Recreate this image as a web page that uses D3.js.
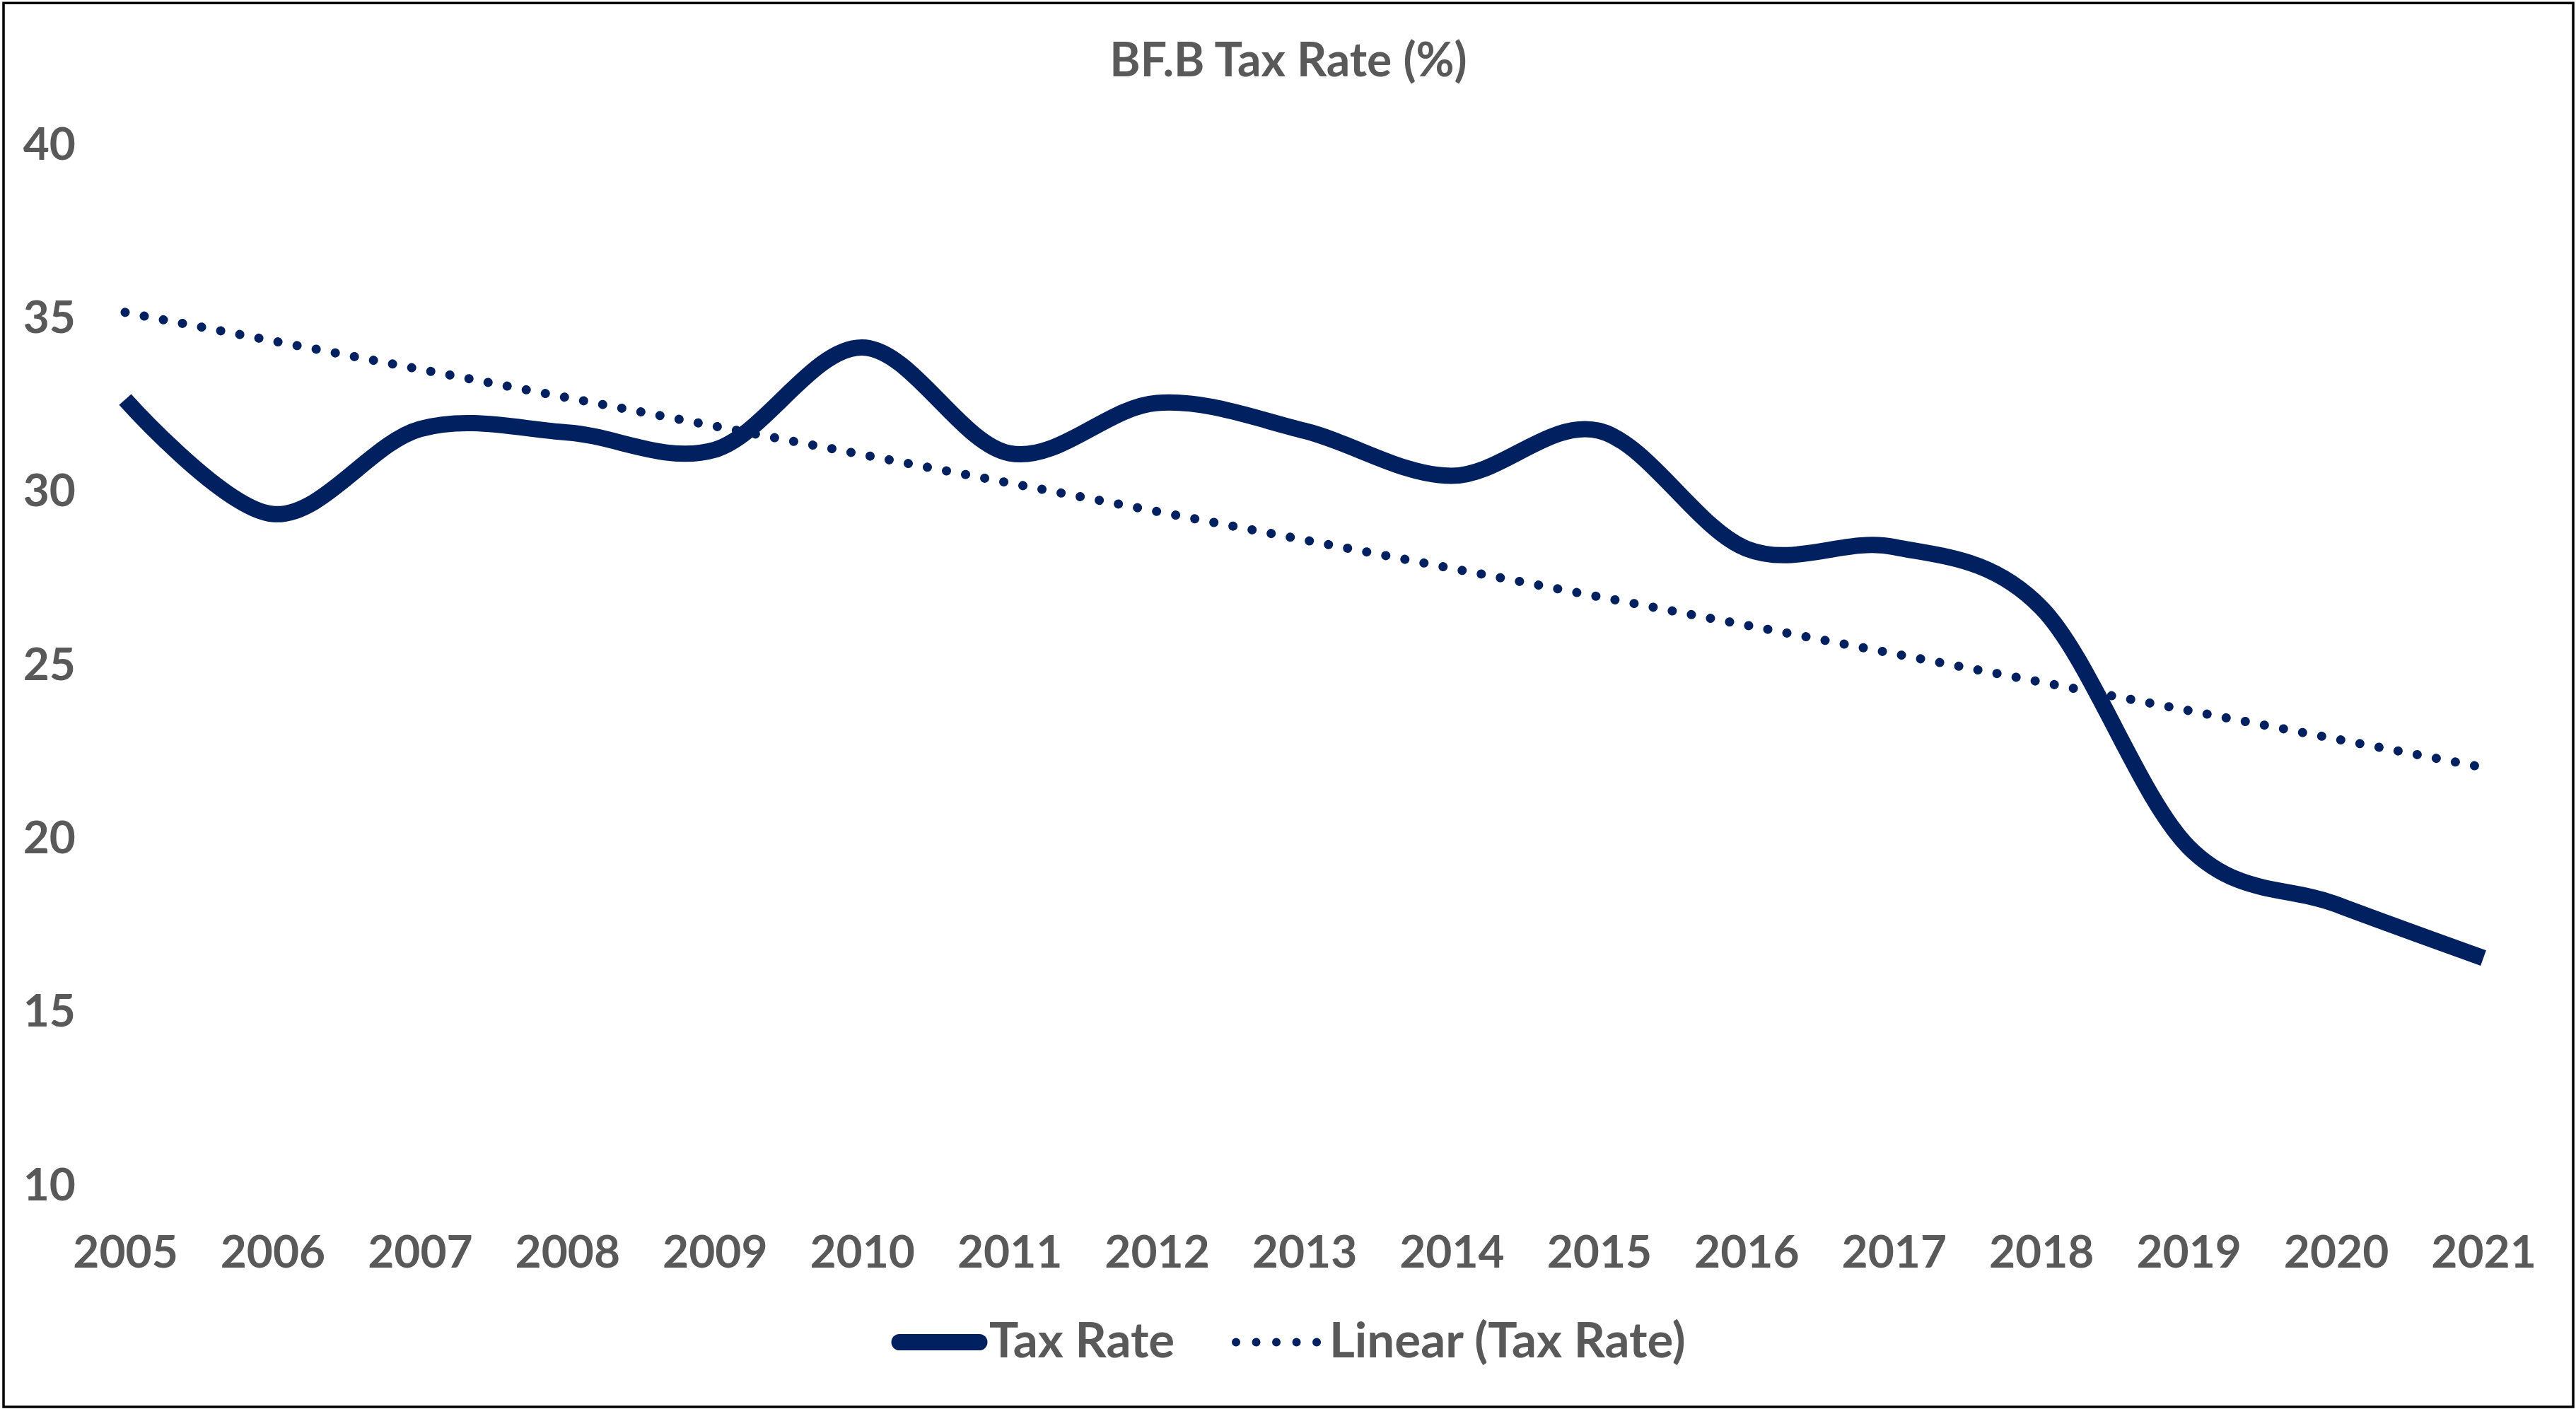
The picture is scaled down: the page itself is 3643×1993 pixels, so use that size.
<!DOCTYPE html>
<html>
<head>
<meta charset="utf-8">
<script src="https://cdn.jsdelivr.net/npm/d3@7"></script>
<style>
    body { margin: 0; background: #fff; }
    text { font-family: Lato, "Open Sans", sans-serif; font-weight: bold; fill: #595959; }
</style>
</head>
<body>
<svg id="chart" width="3643" height="1993"></svg>
<script>
// Chart data
var years = [2005, 2006, 2007, 2008, 2009, 2010, 2011, 2012, 2013, 2014, 2015, 2016, 2017, 2018, 2019, 2020, 2021];
var taxRate = [32.6, 29.3, 31.75, 31.65, 31.15, 34.1, 31.05, 32.5, 31.7, 30.4, 31.7, 28.3, 28.35, 26.6, 19.7, 18.05, 16.5];
var yTicks = [10, 15, 20, 25, 30, 35, 40];
var seriesNames = ["Tax Rate", "Linear (Tax Rate)"];
var chartTitle = "BF.B Tax Rate (%)";

var navy = "#002060";
var tickSize = 64;
var labelSize = 69;

var svg = d3.select("svg#chart");

// Outer border
svg.append("rect")
    .attr("x", 5).attr("y", 4.3)
    .attr("width", 3634).attr("height", 1985.7)
    .style("fill", "none")
    .style("stroke", "black")
    .style("stroke-width", 3.5);

// Scales
var x = d3.scalePoint().domain(years).range([177, 3512]);
var y = d3.scaleLinear().domain([10, 40]).range([1674, 202]);

// Title
svg.append("text")
    .attr("x", 1822).attr("y", 108)
    .attr("text-anchor", "middle")
    .style("font-size", "66px")
    .text(chartTitle);

// Y axis (labels only)
var yAxis = d3.axisLeft(y).tickValues(yTicks).tickSize(0).tickPadding(0);
var gy = svg.append("g").attr("transform", "translate(107,0)").call(yAxis);
gy.select(".domain").remove();
gy.selectAll("text")
    .attr("dy", "0.36em")
    .style("font-size", tickSize + "px")
    .style("font-family", null);

// X axis (labels only)
var xAxis = d3.axisBottom(x).tickSize(0).tickPadding(0);
var gx = svg.append("g").attr("transform", "translate(0,1793)").call(xAxis);
gx.select(".domain").remove();
gx.selectAll("text")
    .attr("dy", 0)
    .style("font-size", tickSize + "px")
    .style("font-family", null);

// Least squares trend line from the series
var n = years.length;
var mx = d3.mean(years), my = d3.mean(taxRate);
var sxy = 0, sxx = 0;
for (var i = 0; i < n; i++) {
    sxy += (years[i] - mx) * (taxRate[i] - my);
    sxx += (years[i] - mx) * (years[i] - mx);
}
var slope = sxy / sxx;
var intercept = my - slope * mx;
var trend = [years[0], years[n - 1]].map(function (yr) { return [yr, intercept + slope * yr]; });

svg.append("path")
    .datum(trend)
    .attr("d", d3.line()
        .x(function (d) { return x(d[0]); })
        .y(function (d) { return y(d[1]); }))
    .style("fill", "none")
    .style("stroke", navy)
    .style("stroke-width", 13)
    .style("stroke-linecap", "round")
    .style("stroke-dasharray", "0.01 27.5");

// Smoothed tax rate line
var line = d3.line()
    .x(function (d, i) { return x(years[i]); })
    .y(function (d) { return y(d); })
    .curve(d3.curveCardinal.tension(0));

svg.append("path")
    .datum(taxRate)
    .attr("d", line)
    .style("fill", "none")
    .style("stroke", navy)
    .style("stroke-width", 23)
    .style("stroke-linejoin", "round");

// Legend
var legY = 1898.5;
svg.append("line")
    .attr("x1", 1272).attr("x2", 1385)
    .attr("y1", legY).attr("y2", legY)
    .style("stroke", navy)
    .style("stroke-width", 23)
    .style("stroke-linecap", "round");
svg.append("text")
    .attr("x", 1399).attr("y", 1920)
    .style("font-size", labelSize + "px")
    .text(seriesNames[0]);

svg.append("line")
    .attr("x1", 1748).attr("x2", 1866)
    .attr("y1", legY).attr("y2", legY)
    .style("stroke", navy)
    .style("stroke-width", 12)
    .style("stroke-linecap", "round")
    .style("stroke-dasharray", "0.01 28.5");
svg.append("text")
    .attr("x", 1880).attr("y", 1920)
    .style("font-size", labelSize + "px")
    .text(seriesNames[1]);
</script>
</body>
</html>
